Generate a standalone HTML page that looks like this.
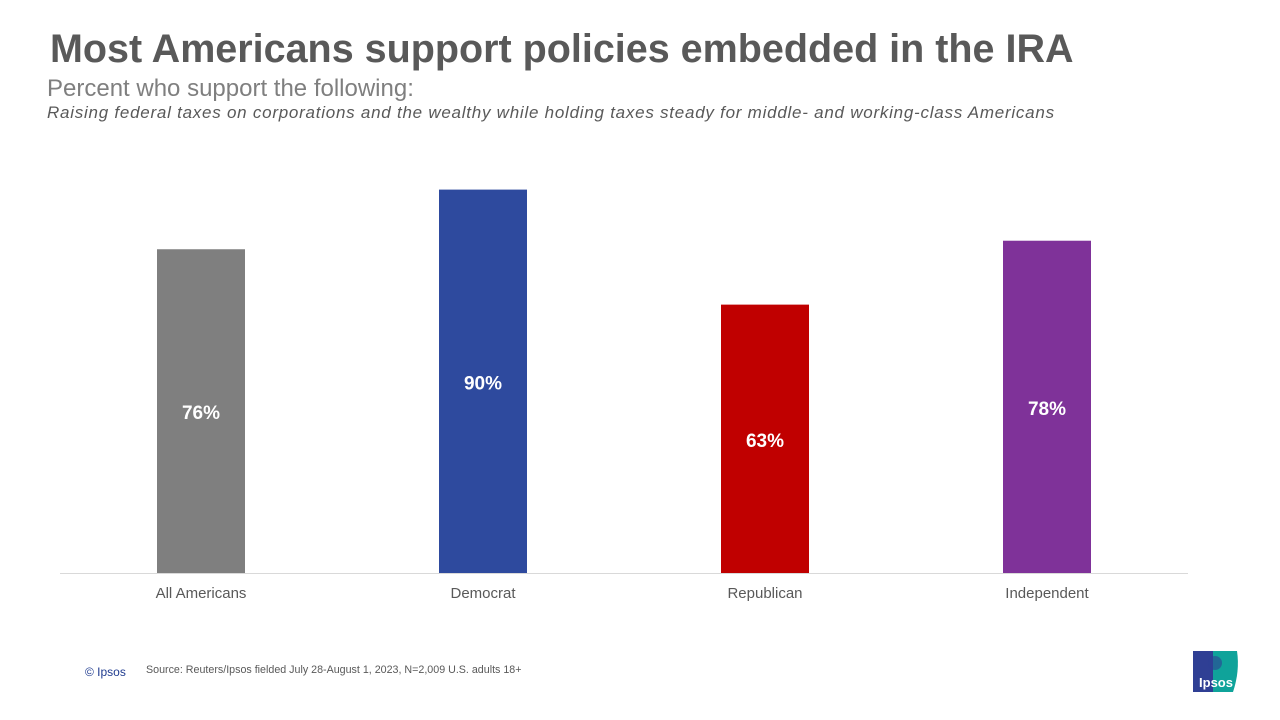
<!DOCTYPE html>
<html><head><meta charset="utf-8"><style>
body{margin:0;width:1280px;height:720px;background:#fff;font-family:"Liberation Sans",Arial,sans-serif;position:relative;overflow:hidden}
.a{position:absolute;margin:0;white-space:nowrap}
</style></head><body>
<h1 class="a" style="left:50px;top:27px;font-size:39.5px;font-weight:bold;color:#595959;line-height:44px">Most Americans support policies embedded in the IRA</h1>
<div class="a" style="left:47px;top:75px;font-size:24px;color:#7f7f7f;line-height:27px">Percent who support the following:</div>
<div class="a" style="left:47px;top:103px;font-size:17px;font-style:italic;color:#595959;line-height:20px;letter-spacing:0.75px">Raising federal taxes on corporations and the wealthy while holding taxes steady for middle- and working-class Americans</div>
<svg class="a" style="left:0;top:0" width="1280" height="720" id="chart"></svg>
<div class="a" style="left:85px;top:665px;font-size:12px;color:#1f3b8f">© Ipsos</div>
<div class="a" style="left:146px;top:664px;font-size:10.7px;color:#595959">Source: Reuters/Ipsos fielded July 28-August 1, 2023, N=2,009 U.S. adults 18+</div>
<svg class="a" style="left:1193px;top:651px" width="47" height="41" viewBox="0 0 47 41">
<path d="M0 0H20V41H0Z" fill="#2f3f94"/>
<path d="M20 0H44Q47 20 40 41H20Z" fill="#0fa39a"/>
<circle cx="22" cy="12" r="7" fill="#2f3f94" opacity="0.6"/>
<text x="23" y="36" font-size="13" font-weight="bold" fill="#fff" text-anchor="middle" font-family="Liberation Sans, sans-serif">Ipsos</text>
</svg>
<script>
const categories=["All Americans","Democrat","Republican","Independent"];
const values=[76,90,63,78];
const colors=["#7f7f7f","#2e4a9e","#c00000","#7f3299"];
const svg=document.getElementById('chart');
const NS="http://www.w3.org/2000/svg";
const baseY=573, pxPer=4.26, x0=201, step=282, bw=88;
function xScale(i){return x0+i*step;}
function yScale(v){return baseY-v*pxPer;}
const ax=document.createElementNS(NS,'line');
ax.setAttribute('x1',60);ax.setAttribute('x2',1188);ax.setAttribute('y1',baseY+0.5);ax.setAttribute('y2',baseY+0.5);
ax.setAttribute('stroke','#d9d9d9');ax.setAttribute('stroke-width',1);


svg.appendChild(ax);
values.forEach((v,i)=>{
 const cx=xScale(i), top=yScale(v);
 const r=document.createElementNS(NS,'rect');
 r.setAttribute('x',cx-bw/2);r.setAttribute('y',top);r.setAttribute('width',bw);r.setAttribute('height',baseY-top);r.setAttribute('fill',colors[i]);
 
 
 svg.appendChild(r);
 const t=document.createElementNS(NS,'text');
 t.setAttribute('x',cx);t.setAttribute('y',(top+baseY)/2+8);t.setAttribute('text-anchor','middle');
 t.setAttribute('font-size','19');t.setAttribute('font-weight','bold');t.setAttribute('fill','#fff');
 t.textContent=v+'%';
 
 
 svg.appendChild(t);
 const c=document.createElementNS(NS,'text');
 c.setAttribute('x',cx);c.setAttribute('y',598);c.setAttribute('text-anchor','middle');
 c.setAttribute('font-size','15');c.setAttribute('fill','#595959');
 c.textContent=categories[i];
 
 
 svg.appendChild(c);
});
</script>
</body></html>
